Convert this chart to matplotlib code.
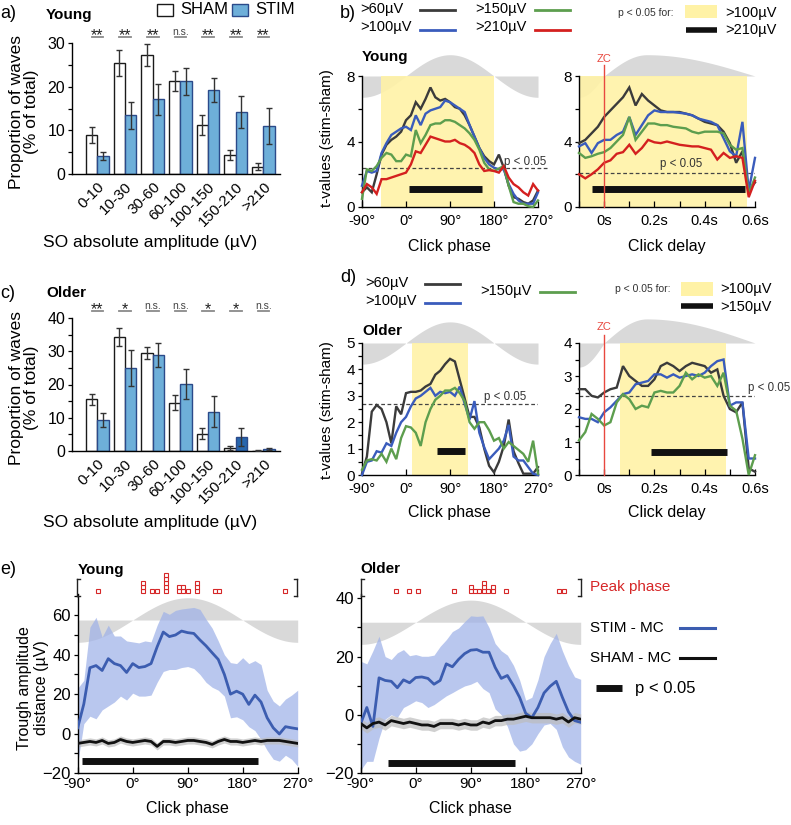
import numpy as np
import matplotlib
matplotlib.use('Agg')
import matplotlib.pyplot as plt
from matplotlib.lines import Line2D
from matplotlib.patches import Rectangle
from matplotlib.ticker import MultipleLocator, FixedLocator

plt.rcParams['font.family'] = ['Liberation Sans', 'DejaVu Sans']
plt.rcParams['axes.linewidth'] = 1.0

W, H = 791, 825
fig = plt.figure(figsize=(W / 100, H / 100), dpi=100)

# ------------------------------------------------------------------ data
amp_bins = ['0-10', '10-30', '30-60', '60-100', '100-150', '150-210', '>210']
young_sham = [9.0, 25.4, 27.2, 21.2, 11.3, 4.4, 1.7]
young_sham_err = [1.8, 2.9, 2.5, 2.3, 2.3, 1.1, 0.85]
young_stim = [4.1, 13.4, 17.1, 21.2, 19.3, 14.2, 11.0]
young_stim_err = [1.0, 3.0, 3.6, 3.1, 2.7, 3.6, 4.2]
young_sig = ['**', '**', '**', 'n.s.', '**', '**', '**']
older_sham = [15.5, 34.2, 29.5, 14.5, 5.2, 1.0, 0.15]
older_sham_err = [1.7, 2.7, 1.8, 2.3, 1.7, 0.6, 0.1]
older_stim = [9.3, 25.0, 28.8, 20.2, 11.8, 4.2, 0.5]
older_stim_err = [2.0, 5.4, 3.6, 4.5, 4.6, 2.6, 0.3]
older_sig = ['**', '*', 'n.s.', 'n.s.', '*', '*', 'n.s.']

phase = [-90, -80, -70, -60, -50, -40, -30, -20, -10, 0, 10, 20, 30, 40, 50, 60, 70, 80, 90,
         100, 110, 120, 130, 140, 150, 160, 170, 180, 190, 200, 210, 220, 230, 240, 250, 260, 270]
delay = [-0.1, -0.075, -0.05, -0.025, 0.0, 0.025, 0.05, 0.075, 0.1, 0.125, 0.15, 0.175, 0.2,
         0.225, 0.25, 0.275, 0.3, 0.325, 0.35, 0.375, 0.4, 0.425, 0.45, 0.475, 0.5, 0.525,
         0.55, 0.575, 0.6]

# panel b (young) t-values vs phase
yb_ph_60 = [0.9, 1.2, 0.9, 2.0, 3.2, 3.8, 4.1, 4.3, 4.6, 5.3, 5.6, 6.4, 6.0, 6.6, 7.3, 6.7, 6.5, 6.6, 6.4,
            6.1, 6.0, 5.6, 5.0, 4.3, 3.6, 3.1, 2.8, 2.6, 3.2, 2.4, 1.3, 0.6, 0.5, 0.3, 0.2, 0.4, 1.0]
yb_ph_100 = [1.3, 2.2, 2.1, 2.2, 3.3, 3.9, 4.4, 4.6, 4.8, 4.9, 4.7, 5.6, 5.0, 5.7, 5.9, 6.0, 6.1, 6.5, 6.4,
             6.2, 6.0, 5.8, 5.0, 4.3, 3.6, 3.0, 2.6, 2.4, 2.3, 2.3, 1.4, 0.8, 0.4, 0.2, 0.2, 0.2, 0.9]
yb_ph_150 = [0.5, 2.3, 2.2, 2.5, 3.0, 3.3, 3.2, 2.8, 2.8, 3.2, 3.1, 4.7, 3.9, 4.4, 5.0, 5.1, 5.1, 5.3, 5.3,
             5.2, 5.0, 4.8, 4.5, 4.1, 3.5, 2.7, 2.3, 2.2, 2.35, 2.5, 1.3, 0.3, 0.2, 0.2, 0.05, 0.0, 0.4]
yb_ph_210 = [0.9, 1.4, 1.2, 0.8, 1.7, 1.7, 1.8, 1.9, 2.0, 2.1, 2.6, 3.4, 3.3, 3.8, 4.3, 4.2, 4.1, 4.0, 4.0,
             4.1, 3.9, 3.8, 3.6, 3.3, 2.6, 2.2, 2.25, 2.2, 2.1, 2.5, 1.8, 1.4, 1.2, 0.9, 0.7, 1.4, 1.0]
# panel b (young) t-values vs delay
yb_dl_60 = [3.9, 4.1, 4.5, 4.9, 5.5, 5.9, 6.3, 6.7, 7.3, 6.2, 6.9, 6.5, 6.2, 5.9, 5.8, 5.8, 5.8, 5.7,
            5.6, 5.4, 5.2, 5.1, 5.0, 4.6, 3.9, 2.7, 3.4, 1.0, 1.5]
yb_dl_100 = [3.7, 3.9, 3.3, 3.9, 4.1, 4.1, 4.4, 4.6, 5.5, 4.4, 5.0, 5.6, 5.9, 5.8, 5.8, 5.8, 5.75, 5.7,
             5.6, 5.4, 5.3, 5.2, 5.0, 4.2, 3.4, 3.1, 5.2, 1.0, 3.0]
yb_dl_150 = [3.3, 3.0, 3.1, 3.25, 3.35, 3.6, 4.0, 4.4, 5.5, 4.1, 4.6, 5.1, 5.1, 5.0, 5.0, 4.9, 4.85, 4.8,
             4.6, 4.5, 4.6, 4.6, 4.6, 4.5, 3.8, 3.5, 3.6, 0.8, 1.8]
yb_dl_210 = [2.0, 1.75, 2.0, 2.3, 2.7, 2.85, 3.25, 3.35, 3.8, 3.25, 3.6, 4.1, 3.95, 3.9, 4.0, 3.9, 3.8, 3.75,
             3.7, 3.7, 3.6, 3.5, 2.9, 3.3, 3.0, 3.1, 3.0, 0.6, 1.6]
# panel d (older) t-values vs phase
od_ph_60 = [0.05, 0.7, 2.4, 2.65, 2.5, 2.0, 1.2, 2.6, 2.3, 3.1, 3.15, 3.15, 3.2, 3.35, 3.45, 3.8, 3.95, 4.2, 4.4,
            4.3, 3.6, 2.9, 2.2, 2.2, 1.8, 1.0, 0.35, 0.1, 0.5, 1.1, 2.1, 0.9, 0.45, 0.05, 0.05, 0.05, 0.3]
od_ph_100 = [0.0, 0.5, 0.55, 0.9, 0.85, 1.2, 1.1, 1.6, 2.0, 2.2, 2.6, 2.9, 3.0, 3.15, 3.3, 3.0, 3.15, 3.1, 3.15,
             3.0, 3.35, 2.7, 2.1, 2.8, 1.6, 1.05, 0.6, 0.8, 1.0, 1.3, 1.9, 0.7, 0.55, 0.55, 0.3, 0.05, 0.0]
od_ph_150 = [0.2, 0.55, 0.6, 0.55, 0.8, 0.5, 1.0, 0.6, 1.4, 1.85, 1.8, 1.6, 1.1, 2.0, 2.5, 2.85, 3.0, 3.2, 3.2,
             3.3, 3.1, 2.8, 2.0, 1.75, 2.0, 2.0, 1.7, 1.3, 1.4, 1.0, 1.25, 1.1, 0.95, 0.8, 0.5, 1.3, 0.05]
# panel d (older) t-values vs delay
od_dl_60 = [2.6, 2.6, 2.4, 2.35, 2.5, 2.6, 2.65, 3.3, 3.0, 2.85, 2.7, 2.7, 2.9, 3.3, 3.4, 3.3, 3.15, 3.3,
            3.4, 3.35, 3.3, 3.1, 3.2, 2.4, 2.0, 1.9, 2.2, 0.2, 0.1]
od_dl_100 = [1.75, 1.7, 1.7, 1.6, 1.9, 2.05, 2.25, 2.45, 2.5, 2.75, 2.8, 2.85, 3.05, 3.05, 2.95, 3.05, 2.95,
             3.0, 3.05, 3.0, 3.1, 3.3, 3.45, 3.5, 2.1, 2.2, 2.2, 0.5, 0.5]
od_dl_150 = [1.05, 1.3, 1.85, 1.7, 1.5, 1.6, 2.2, 2.45, 2.3, 2.0, 2.1, 2.05, 2.5, 2.55, 2.5, 2.5, 2.7, 3.1,
             2.9, 3.05, 2.95, 3.0, 2.7, 3.1, 2.1, 1.95, 1.1, 0.0, 0.6]

# panel e: trough amplitude distance
ye_stim = [2.9, 15, 33.4, 34.5, 32, 38, 35.5, 34.5, 31, 35.5, 33.5, 34, 35.5, 44, 51.5, 49.2, 50, 52, 51.2,
           50.8, 47.5, 44.5, 41, 37.6, 30, 20, 21.5, 20, 14.8, 19.5, 16, 8, 2.9, -0.2, 3.5, 2.9, 2.4]
ye_stim_hi = [23, 27, 54, 59, 49, 55, 49.5, 49.5, 47, 46.5, 46, 47, 46.5, 55, 62, 60.5, 62.5, 63.2, 63.6,
              64, 63, 58, 53.5, 47, 40, 36, 35.5, 38.5, 35.5, 37, 35, 22, 16.4, 14, 17.5, 19.5, 22]
ye_stim_lo = [-15, 5, 8.8, 7.5, 12, 14, 16, 19, 17, 20.5, 19, 19, 19.5, 26, 31.5, 32.5, 32.5, 33.5, 34,
              33, 30, 26, 23.5, 22, 19, 8, 8.5, 7, 3.5, 1.5, -3, -8.5, -13, -14, -11, -13, -16.6]
ye_sham = [-5, -4.5, -4, -4.5, -3.5, -5, -4.5, -3, -4, -4.5, -4, -3.5, -4, -6.5, -4, -4, -4.5, -4, -3.5,
           -3.5, -4, -4.5, -5.5, -4, -3, -4, -4, -4.5, -4, -3.5, -4, -3.5, -3.5, -3.5, -4, -4.5, -5]
oe_stim = [-3, 2.5, -4, 12.7, 11.8, 11.5, 9.3, 12, 11, 12.8, 13, 12.5, 10.5, 11.8, 17.5, 16.5, 19, 21, 22.2,
           22.4, 21.5, 21.5, 16.3, 12.5, 13.5, 10, 6, 0.5, -1.0, 2.5, 7.5, 9.8, 11.5, 6.0, 1, -2, -2.6]
oe_stim_hi = [18.4, 17.5, 22, 27, 20, 19, 21.3, 22.4, 20.3, 20.7, 20.1, 20.1, 20.5, 23.5, 25.8, 28.6, 29.8,
              32, 34, 33.8, 34, 30, 24.5, 22, 20.5, 17, 12, 5, 6, 12, 20, 24.5, 28, 22, 17, 13, 12.2]
oe_stim_lo = [-19, -16, -16, -8, -1.5, 0, -0.9, 2.5, 3.6, 4.8, 4.2, 2.5, 3.5, 5, 6.5, 7.6, 8.8, 9.9, 10.5,
              11.5, 9, 7.6, 2, 0, -4, -10, -12.5, -12, -10, -6.5, -3.5, -3, -5, -11, -14.5, -16, -17]
oe_sham = [-3, -4.5, -3, -2.5, -3.5, -2, -2.5, -3, -2.5, -3, -3.5, -3.5, -4, -3, -3, -3, -3.5, -3, -3.5,
           -3.5, -2.5, -3, -2, -2, -1.5, -1.5, -1, -0.5, -1, -1, -1, -1, -1.5, -1, -2.5, -1, -1.5]
sham_band = 1.8

peak_young_phase = [-56, 17, 32, 39, 54, 76, 83, 90, 105, 134, 141, 249]
peak_young_count = [1, 3, 1, 1, 5, 2, 2, 1, 3, 1, 1, 1]
peak_older_phase = [-32, -11, 3, 62, 90, 97, 104, 111, 119, 126, 148, 235, 242]
peak_older_count = [1, 1, 1, 1, 2, 1, 1, 3, 1, 2, 1, 1, 1]

# significance intervals
b_yellow_ph = (-52, 180.5)
b_bar_ph = (6, 155, 1.1)
b_yellow_dl = (-0.1, 0.567)
b_bar_dl = (-0.05, 0.56, 1.08)
b_thr_ph, b_thr_dl = 2.4, 2.1
d_yellow_ph = (11.6, 126)
d_bar_ph = (63, 121, 0.92)
d_yellow_dl = (0.063, 0.483)
d_bar_dl = (0.185, 0.49, 0.69)
d_thr_ph, d_thr_dl = 2.7, 2.38
e_bar_young = (-83.5, 205.6, -13.7)
e_bar_older = (-46, 162.6, -16.6)

# ------------------------------------------------------------------ style
STIM_C = '#6eafd9'
STIM_DARK = '#2766ad'
STIM_EDGE = '#2b4a8a'
C60, C100, C150, C210 = '#3b3b3b', '#3a5cbc', '#5d9e4e', '#d4201f'
YEL = '#fff2a6'
GREY = '#d9d9d9'
BAND = '#9fb2e8'
LINE_E = '#3c5db0'


def axpx(l, t, r, b):
    return fig.add_axes([l / W, 1 - b / H, (r - l) / W, (b - t) / H])


def ftext(x, y, s, **kw):
    kw.setdefault('va', 'center')
    fig.text(x / W, 1 - y / H, s, **kw)


def fline(x0, x1, y0, y1, **kw):
    fig.add_artist(Line2D([x0 / W, x1 / W], [1 - y0 / H, 1 - y1 / H], **kw))


def frect(x0, y0, x1, y1, **kw):
    fig.add_artist(Rectangle((x0 / W, 1 - y1 / H), (x1 - x0) / W, (y1 - y0) / H,
                             transform=fig.transFigure, **kw))


def clean(ax):
    ax.spines[['top', 'right']].set_visible(False)
    ax.set_facecolor('none')


# ------------------------------------------------------------------ bar panels
def bar_panel(ax, sham, sham_err, stim, stim_err, sig, ymax, major, stim_cols, line_frac):
    x = np.arange(len(amp_bins))
    w = 0.41
    ax.bar(x - w / 2, sham, w, color='white', edgecolor='#1a1a1a', linewidth=1.0, zorder=2)
    ax.bar(x + w / 2, stim, w, color=stim_cols, edgecolor=STIM_EDGE, linewidth=1.0, zorder=2)
    ax.errorbar(x - w / 2, sham, yerr=sham_err, fmt='none', ecolor='#333333', elinewidth=1.0,
                capsize=2.5, capthick=1.0, zorder=3)
    ax.errorbar(x + w / 2, stim, yerr=stim_err, fmt='none', ecolor='#333333', elinewidth=1.0,
                capsize=2.5, capthick=1.0, zorder=3)
    ax.set_xlim(-0.92, 6.6)
    ax.set_ylim(0, ymax)
    clean(ax)
    ax.yaxis.set_major_locator(MultipleLocator(major))
    ax.yaxis.set_minor_locator(MultipleLocator(major / 2))
    ax.tick_params(axis='y', which='both', direction='out', length=3, width=0.9, labelsize=11.5, pad=2)
    ax.set_xticks(x)
    ax.set_xticklabels(amp_bins, rotation=45, ha='right', rotation_mode='anchor', fontsize=11)
    ax.tick_params(axis='x', length=0, pad=4)
    tr = ax.get_xaxis_transform()
    for k, s in enumerate(sig):
        ax.plot([k - 0.21, k + 0.21], [line_frac, line_frac], transform=tr, clip_on=False,
                color='#8a8a8a', lw=1.3)
        if s == 'n.s.':
            ax.annotate(s, xy=(k, line_frac), xycoords=tr, xytext=(0, 1.5), textcoords='offset points',
                        ha='center', va='baseline', fontsize=7.5, color='#444444')
        else:
            ax.annotate(s, xy=(k, line_frac), xycoords=tr, xytext=(0, -2.4), textcoords='offset points',
                        ha='center', va='baseline', fontsize=11.5, color='#222222')


ax_a = axpx(72, 43, 280, 174)
bar_panel(ax_a, young_sham, young_sham_err, young_stim, young_stim_err, young_sig, 30, 10,
          [STIM_C] * 7, 1.045)
ax_c = axpx(72, 318, 280, 451)
older_cols = [STIM_C] * 5 + [STIM_DARK, STIM_C]
bar_panel(ax_c, older_sham, older_sham_err, older_stim, older_stim_err, older_sig, 40, 10,
          older_cols, 1.052)

ftext(0, 14, 'a)', fontsize=13)
ftext(46, 15, 'Young', fontsize=11, fontweight='bold')
ftext(0, 293, 'c)', fontsize=13)
ftext(46, 293, 'Older', fontsize=11, fontweight='bold')
frect(157, 4, 173, 16, facecolor='white', edgecolor='#1a1a1a', lw=1.0)
ftext(180, 10, 'SHAM', fontsize=12)
frect(232, 4, 248, 16, facecolor=STIM_C, edgecolor=STIM_EDGE, lw=1.0)
ftext(255, 10, 'STIM', fontsize=12)
for yc in (112, 388):
    ftext(24, yc, 'Proportion of waves\n(% of total)', fontsize=12.5, rotation=90, ha='center',
          linespacing=1.05)
ftext(150, 243, 'SO absolute amplitude (µV)', fontsize=12.5, ha='center')
ftext(150, 522, 'SO absolute amplitude (µV)', fontsize=12.5, ha='center')


# ------------------------------------------------------------------ t-value panels
def delay_shape(t):
    t = np.asarray(t)
    return np.where(t < 0, np.sin(np.pi / 2 * t / 0.1),
                    np.where(t < 0.17, np.sin(np.pi / 2 * t / 0.17),
                             np.cos(np.pi / 2 * (t - 0.17) / 0.43)))


def t_panel(ax, kind, ytop, amp, yellow, bar, series, cols, ylab_step, minor_step):
    clean(ax)
    if kind == 'phase':
        xx = np.linspace(-90, 270, 181)
        wave = ytop + amp * np.sin(np.deg2rad(xx))
        xs = phase
        ax.set_xlim(-90, 270)
        ax.xaxis.set_major_locator(FixedLocator([-90, 0, 90, 180, 270]))
        ax.set_xticklabels(['-90°', '0°', '90°', '180°', '270°'])
    else:
        xx = np.linspace(-0.1, 0.6, 200)
        wave = ytop + amp * delay_shape(xx)
        xs = delay
        ax.set_xlim(-0.1, 0.6)
        ax.xaxis.set_major_locator(FixedLocator([0, 0.2, 0.4, 0.6]))
        ax.xaxis.set_minor_locator(FixedLocator([-0.1, 0.1, 0.3, 0.5]))
        ax.set_xticklabels(['0s', '0.2s', '0.4s', '0.6s'])
    ax.fill_between(xx, ytop, wave, color=GREY, lw=0, clip_on=False, zorder=0)
    ax.axvspan(yellow[0], yellow[1], color=YEL, lw=0, alpha=0.9, zorder=0.5)
    ax.set_ylim(0, ytop)
    ax.yaxis.set_major_locator(MultipleLocator(ylab_step))
    ax.yaxis.set_minor_locator(MultipleLocator(minor_step))
    ax.tick_params(axis='y', which='both', direction='out', length=3, width=0.9, labelsize=11, pad=2)
    ax.tick_params(axis='x', which='both', direction='in', length=4, width=0.9, labelsize=10.5, pad=5)
    for ys, c in zip(series, cols):
        ax.plot(xs, ys, color=c, lw=1.7, zorder=3, clip_on=False, solid_joinstyle='miter')
    ax.plot([bar[0], bar[1]], [bar[2], bar[2]], color='#111111', lw=5, solid_capstyle='butt', zorder=4)


ax_b1 = axpx(362, 76, 538, 207)
t_panel(ax_b1, 'phase', 8, 1.3, b_yellow_ph, b_bar_ph,
        [yb_ph_60, yb_ph_100, yb_ph_150, yb_ph_210], [C60, C100, C150, C210], 4, 2)
ax_b1.plot([-90, 288], [b_thr_ph, b_thr_ph], ls=(0, (3, 2)), color='#444444', lw=0.9, clip_on=False, zorder=2)
ax_b1.text(244, 2.75, 'p < 0.05', fontsize=8.3, ha='center', va='center', color='#333333')

ax_b2 = axpx(579, 76, 755, 207)
t_panel(ax_b2, 'delay', 8, 1.3, b_yellow_dl, b_bar_dl,
        [yb_dl_60, yb_dl_100, yb_dl_150, yb_dl_210], [C60, C100, C150, C210], 4, 2)
ax_b2.plot([-0.1, 0.6], [b_thr_dl, b_thr_dl], ls=(0, (3, 2)), color='#444444', lw=0.9, zorder=2)
ax_b2.text(0.306, 2.62, 'p < 0.05', fontsize=8.3, ha='center', va='center', color='#333333')
ax_b2.plot([0, 0], [0, 8.65], color='#e8483f', lw=1.0, clip_on=False, zorder=5)
ax_b2.text(0, 9.05, 'ZC', fontsize=8, color='#e8483f', ha='center', va='center')

ax_d1 = axpx(362, 343, 538, 475)
t_panel(ax_d1, 'phase', 5, 0.8, d_yellow_ph, d_bar_ph,
        [od_ph_60, od_ph_100, od_ph_150], [C60, C100, C150], 1, 0.5)
ax_d1.plot([-90, 270], [d_thr_ph, d_thr_ph], ls=(0, (3, 2)), color='#444444', lw=0.9, zorder=2)
ax_d1.text(203, 2.95, 'p < 0.05', fontsize=8.3, ha='center', va='center', color='#333333')

ax_d2 = axpx(579, 343, 755, 475)
t_panel(ax_d2, 'delay', 4, 0.73, d_yellow_dl, d_bar_dl,
        [od_dl_60, od_dl_100, od_dl_150], [C60, C100, C150], 1, 0.5)
ax_d2.plot([-0.1, 0.6], [d_thr_dl, d_thr_dl], ls=(0, (3, 2)), color='#444444', lw=0.9, zorder=2)
ax_d2.text(0.656, 2.65, 'p < 0.05', fontsize=8.3, ha='center', va='center', color='#333333')
ax_d2.plot([0, 0], [0, 4.24], color='#e8483f', lw=1.0, clip_on=False, zorder=5)
ax_d2.text(0, 4.47, 'ZC', fontsize=8, color='#e8483f', ha='center', va='center')

for yb in (247, 512):
    ftext(449, yb, 'Click phase', fontsize=11.5, ha='center')
    ftext(667, yb, 'Click delay', fontsize=11.5, ha='center')
ftext(327, 138, 't-values (stim-sham)', fontsize=11, rotation=90, ha='center')
ftext(327, 410, 't-values (stim-sham)', fontsize=11, rotation=90, ha='center')
ftext(340, 14, 'b)', fontsize=13)
ftext(340, 278, 'd)', fontsize=13)
ftext(362, 57, 'Young', fontsize=11, fontweight='bold')
ftext(362, 331, 'Older', fontsize=11, fontweight='bold')

# legend b
ftext(360, 9.5, '>60µV', fontsize=10.5)
fline(420, 455, 10, 10, color=C60, lw=2)
ftext(360, 27, '>100µV', fontsize=10.5)
fline(420, 455, 29.5, 29.5, color=C100, lw=2)
ftext(475, 9.5, '>150µV', fontsize=10.5)
fline(535, 570, 10, 10, color=C150, lw=2)
ftext(475, 27, '>210µV', fontsize=10.5)
fline(535, 570, 29.5, 29.5, color=C210, lw=2)
ftext(618, 12.5, 'p < 0.05 for:', fontsize=7.5, color='#333333')
frect(685, 5, 717, 18, facecolor=YEL, lw=0)
ftext(725, 12.5, '>100µV', fontsize=10.5)
fline(686, 717, 29.5, 29.5, color='#111111', lw=4, solid_capstyle='butt')
ftext(725, 30, '>210µV', fontsize=10.5)

# legend d
ftext(365, 283, '>60µV', fontsize=10.5)
fline(425, 460, 284, 284, color=C60, lw=2)
ftext(365, 301, '>100µV', fontsize=10.5)
fline(425, 460, 303, 303, color=C100, lw=2)
ftext(480, 291, '>150µV', fontsize=10.5)
fline(540, 575, 292, 292, color=C150, lw=2)
ftext(615, 289, 'p < 0.05 for:', fontsize=7.5, color='#333333')
frect(681, 282, 713, 296, facecolor=YEL, lw=0)
ftext(720, 289, '>100µV', fontsize=10.5)
fline(681, 713, 306, 306, color='#111111', lw=4, solid_capstyle='butt')
ftext(720, 307.5, '>150µV', fontsize=10.5)


# ------------------------------------------------------------------ panel e
def e_panel(ax, stim, lo, hi, sham, ylim, wc, wa, peaks, counts, bar, major):
    clean(ax)
    xx = np.linspace(-90, 270, 181)
    ax.fill_between(xx, wc, wc + wa * np.sin(np.deg2rad(xx)), color=GREY, lw=0, zorder=0)
    ax.fill_between(phase, lo, hi, color=BAND, alpha=0.72, lw=0, zorder=1)
    sh = np.asarray(sham)
    ax.fill_between(phase, sh - sham_band, sh + sham_band, color='#bdbdbd', alpha=0.7, lw=0, zorder=1.5)
    ax.plot(phase, stim, color=LINE_E, lw=2.0, zorder=3)
    ax.plot(phase, sham, color='#111111', lw=2.0, zorder=3)
    ax.plot([bar[0], bar[1]], [bar[2], bar[2]], color='#111111', lw=5, solid_capstyle='butt', zorder=4)
    ax.set_xlim(-90, 270)
    ax.set_ylim(*ylim)
    ax.xaxis.set_major_locator(FixedLocator([-90, 0, 90, 180, 270]))
    ax.set_xticklabels(['-90°', '0°', '90°', '180°', '270°'])
    ax.yaxis.set_major_locator(MultipleLocator(major))
    ax.yaxis.set_minor_locator(MultipleLocator(major / 2))
    ax.tick_params(axis='y', which='both', direction='out', length=3, width=0.9, labelsize=12, pad=2)
    ax.tick_params(axis='x', which='both', direction='in', length=4, width=0.9, labelsize=11, pad=3)
    tr = ax.get_xaxis_transform()
    hpx = 179.0
    for p, n in zip(peaks, counts):
        for k in range(n):
            ax.plot([p], [1 + 3.3 / hpx + k * 4.0 / hpx], transform=tr, clip_on=False, marker='s',
                    ms=2.8, mfc='white', mec='#d62728', mew=0.8, ls='none')


ax_e1 = axpx(77.7, 594, 297.7, 773)
e_panel(ax_e1, ye_stim, ye_stim_lo, ye_stim_hi, ye_sham, (-20, 70.8), 57.6, 11.3,
        peak_young_phase, peak_young_count, e_bar_young, 20)
ax_e2 = axpx(360.7, 594, 580.7, 773)
e_panel(ax_e2, oe_stim, oe_stim_lo, oe_stim_hi, oe_sham, (-20, 41.5), 31.8, 7.6,
        peak_older_phase, peak_older_count, e_bar_older, 20)
ftext(187.7, 808, 'Click phase', fontsize=11.5, ha='center')
ftext(470.7, 808, 'Click phase', fontsize=11.5, ha='center')

# brackets around peak-phase markers
for xl, xr in ((77, 297), (361, 581)):
    fline(xl, xl, 579, 596, color='#222222', lw=1.0)
    fline(xl, xl + 3, 579, 579, color='#222222', lw=1.0)
    fline(xl, xl + 3, 596, 596, color='#222222', lw=1.0)
    fline(xr, xr, 579, 596, color='#222222', lw=1.0)
    fline(xr - 3, xr, 579, 579, color='#222222', lw=1.0)
    fline(xr - 3, xr, 596, 596, color='#222222', lw=1.0)

ftext(0, 569, 'e)', fontsize=13)
ftext(78, 570, 'Young', fontsize=11, fontweight='bold')
ftext(360, 569, 'Older', fontsize=11, fontweight='bold')
ftext(33, 688, 'Trough amplitude\ndistance (µV)', fontsize=11.5, rotation=90, ha='center', linespacing=1.15)

ftext(590, 587, 'Peak phase', fontsize=11, color='#d62728')
ftext(590, 628, 'STIM - MC', fontsize=11)
fline(680, 715, 628, 628, color=LINE_E, lw=2.2)
ftext(590, 658, 'SHAM - MC', fontsize=11)
fline(680, 715, 658, 658, color='#111111', lw=2.2)
fline(596, 622, 688, 688, color='#111111', lw=5, solid_capstyle='butt')
ftext(635, 688, 'p < 0.05', fontsize=12)

fig.savefig('out.png', dpi=100, facecolor='white')
